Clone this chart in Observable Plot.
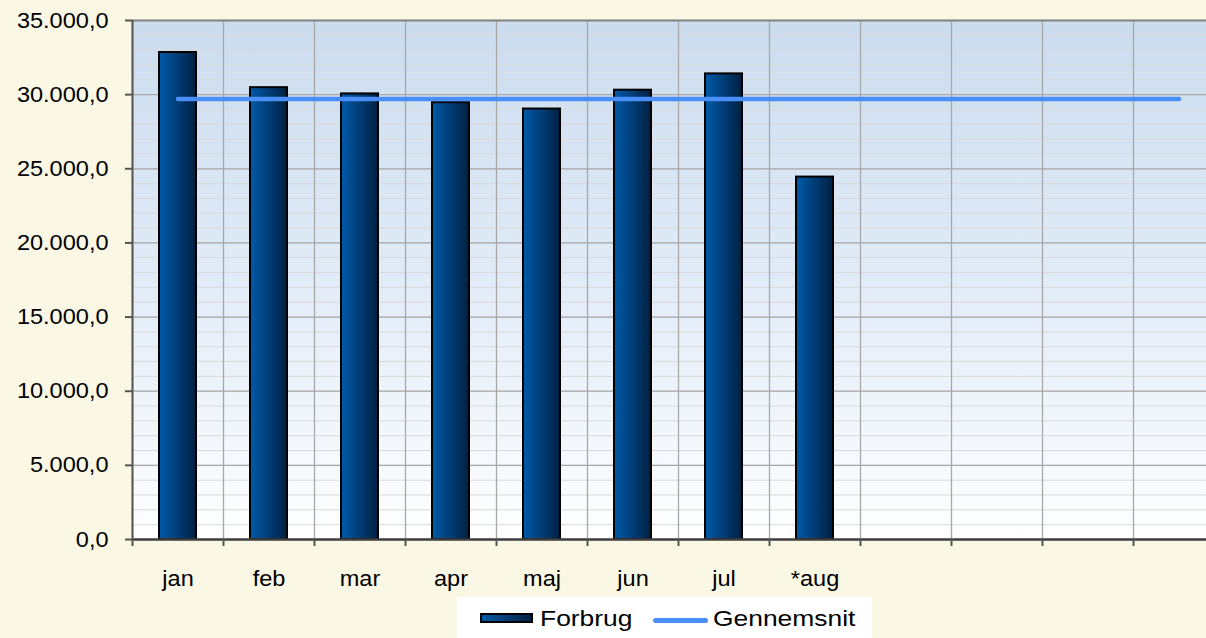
<!DOCTYPE html>
<html>
<head>
<meta charset="utf-8">
<script src="https://cdn.jsdelivr.net/npm/d3@7"></script>
<script src="https://cdn.jsdelivr.net/npm/@observablehq/plot@0.6"></script>
<style>
  html, body { margin: 0; padding: 0; background: #FAF7E5; overflow: hidden; width: 1206px; height: 638px; }
  #chart { position: absolute; left: 0; top: 0; width: 1224px; }
  #chart svg { max-width: none !important; width: 1224px; height: 592px; }
  #legend { position: absolute; left: 457px; top: 597px; width: 415px; height: 45px; background: #ffffff;
            font-family: 'Liberation Sans', Arial, sans-serif; font-size: 22px; color: #000; }
  #legend .sw1 { position: absolute; left: 23px; top: 16px; width: 49px; height: 6px; border: 2px solid #000;
                 background: linear-gradient(to right, #005aa9, #002041); }
  #legend .sw2 { position: absolute; left: 196px; top: 20.5px; width: 55px; height: 5px; border-radius: 3px; background: #4a8ff7; }
  #legend .t { position: absolute; top: 11px; line-height: 22px; white-space: nowrap; transform: scaleX(1.2); transform-origin: 0 50%; }
</style>
</head>
<body>
<div id="chart"></div>
<div id="legend">
  <span class="sw1"></span><span class="t" style="left:83px">Forbrug</span>
  <span class="sw2"></span><span class="t" style="left:256px">Gennemsnit</span>
</div>
<script>
// ---- data ----
const categories = ["jan", "feb", "mar", "apr", "maj", "jun", "jul", "*aug", "sep", "okt", "nov", "dec"];
const tickLabels = ["jan", "feb", "mar", "apr", "maj", "jun", "jul", "*aug", "", "", "", ""];
const forbrug = [32840, 30470, 30050, 29460, 29030, 30300, 31400, 24440];
const gennemsnit = [29700, 29700, 29700, 29700, 29700, 29700, 29700, 29700, 29700, 29700, 29700, 29700];
const yTicks = [0, 5000, 10000, 15000, 20000, 25000, 30000, 35000];
const yMinorTicks = d3.range(0, 35001, 1000);

const bars = forbrug.map((v, i) => ({month: categories[i], value: v}));
const avg = gennemsnit.map((v, i) => ({month: categories[i], value: v}));

const nf = d3.formatLocale({decimal: ",", thousands: ".", grouping: [3], currency: ["", " kr"]}).format(",.1f");
const half = -45.5;

const chart = Plot.plot({
  width: 1224,
  height: 592,
  marginLeft: 132,
  marginRight: 0,
  marginTop: 20,
  marginBottom: 53,
  style: {background: "transparent", fontFamily: "'Liberation Sans', Arial, sans-serif", fontSize: "22px", color: "#000", overflow: "visible", maxWidth: "none"},
  x: {type: "band", domain: categories, padding: 0, label: null, axis: null},
  y: {domain: [0, 35000], label: null, axis: null},
  marks: [
    Plot.frame({fill: "url(#plotBg)", stroke: "none"}),
    Plot.gridY(yMinorTicks, {stroke: "#d9d9d9", strokeOpacity: 1, strokeWidth: 1}),
    Plot.gridY(yTicks, {stroke: "#a8a8a8", strokeOpacity: 1, strokeWidth: 1.3}),
    Plot.ruleX(categories, {x: d => d, dx: half, y1: 0, y2: 35000, stroke: "#a8a8a8", strokeWidth: 1.3}),
    Plot.ruleY([35000], {stroke: "#888", strokeWidth: 2}),
    Plot.barY(bars, {x: "month", y: "value", fill: "url(#barGrad)", stroke: "#000", strokeWidth: 2, insetLeft: 27, insetRight: 27}),
    Plot.line(avg, {x: "month", y: "value", stroke: "#4a8ff7", strokeWidth: 4.5, strokeLinecap: "round"}),
    Plot.ruleX([categories[0]], {x: d => d, dx: half, y1: 0, y2: 35000, stroke: "#555", strokeWidth: 2}),
    Plot.ruleY([0], {stroke: "#404040", strokeWidth: 2.5}),
    Plot.axisY(yTicks, {tickFormat: nf, tickSize: 7, tickPadding: 17, stroke: "#555", strokeWidth: 2, fill: "#000", fontSize: 22, label: null}),
    Plot.axisX({tickSize: 7, dx: half, tickFormat: () => "", stroke: "#555", strokeWidth: 2, label: null}),
    Plot.axisX({tickSize: 0, tickPadding: 31, tickFormat: d => tickLabels[categories.indexOf(d)], fill: "#000", fontSize: 22, label: null})
  ]
});

const defs = document.createElementNS("http://www.w3.org/2000/svg", "defs");
defs.innerHTML =
  '<linearGradient id="plotBg" x1="0" y1="0" x2="0" y2="1">' +
  '<stop offset="0" stop-color="#cbdcef"/><stop offset="0.55" stop-color="#e4edf8"/><stop offset="1" stop-color="#ffffff"/></linearGradient>' +
  '<linearGradient id="barGrad" x1="0" y1="0" x2="1" y2="0">' +
  '<stop offset="0" stop-color="#005aa9"/><stop offset="1" stop-color="#002041"/></linearGradient>';
chart.insertBefore(defs, chart.firstChild);
document.getElementById("chart").appendChild(chart);

// slight horizontal stretch of axis labels as in the reference
chart.querySelectorAll("text").forEach(t => {
  if (!t.textContent) return;
  const w = t.getComputedTextLength();
  if (w > 0) {
    t.setAttribute("textLength", (w * 1.07).toFixed(1));
    t.setAttribute("lengthAdjust", "spacingAndGlyphs");
  }
});
</script>
</body>
</html>
